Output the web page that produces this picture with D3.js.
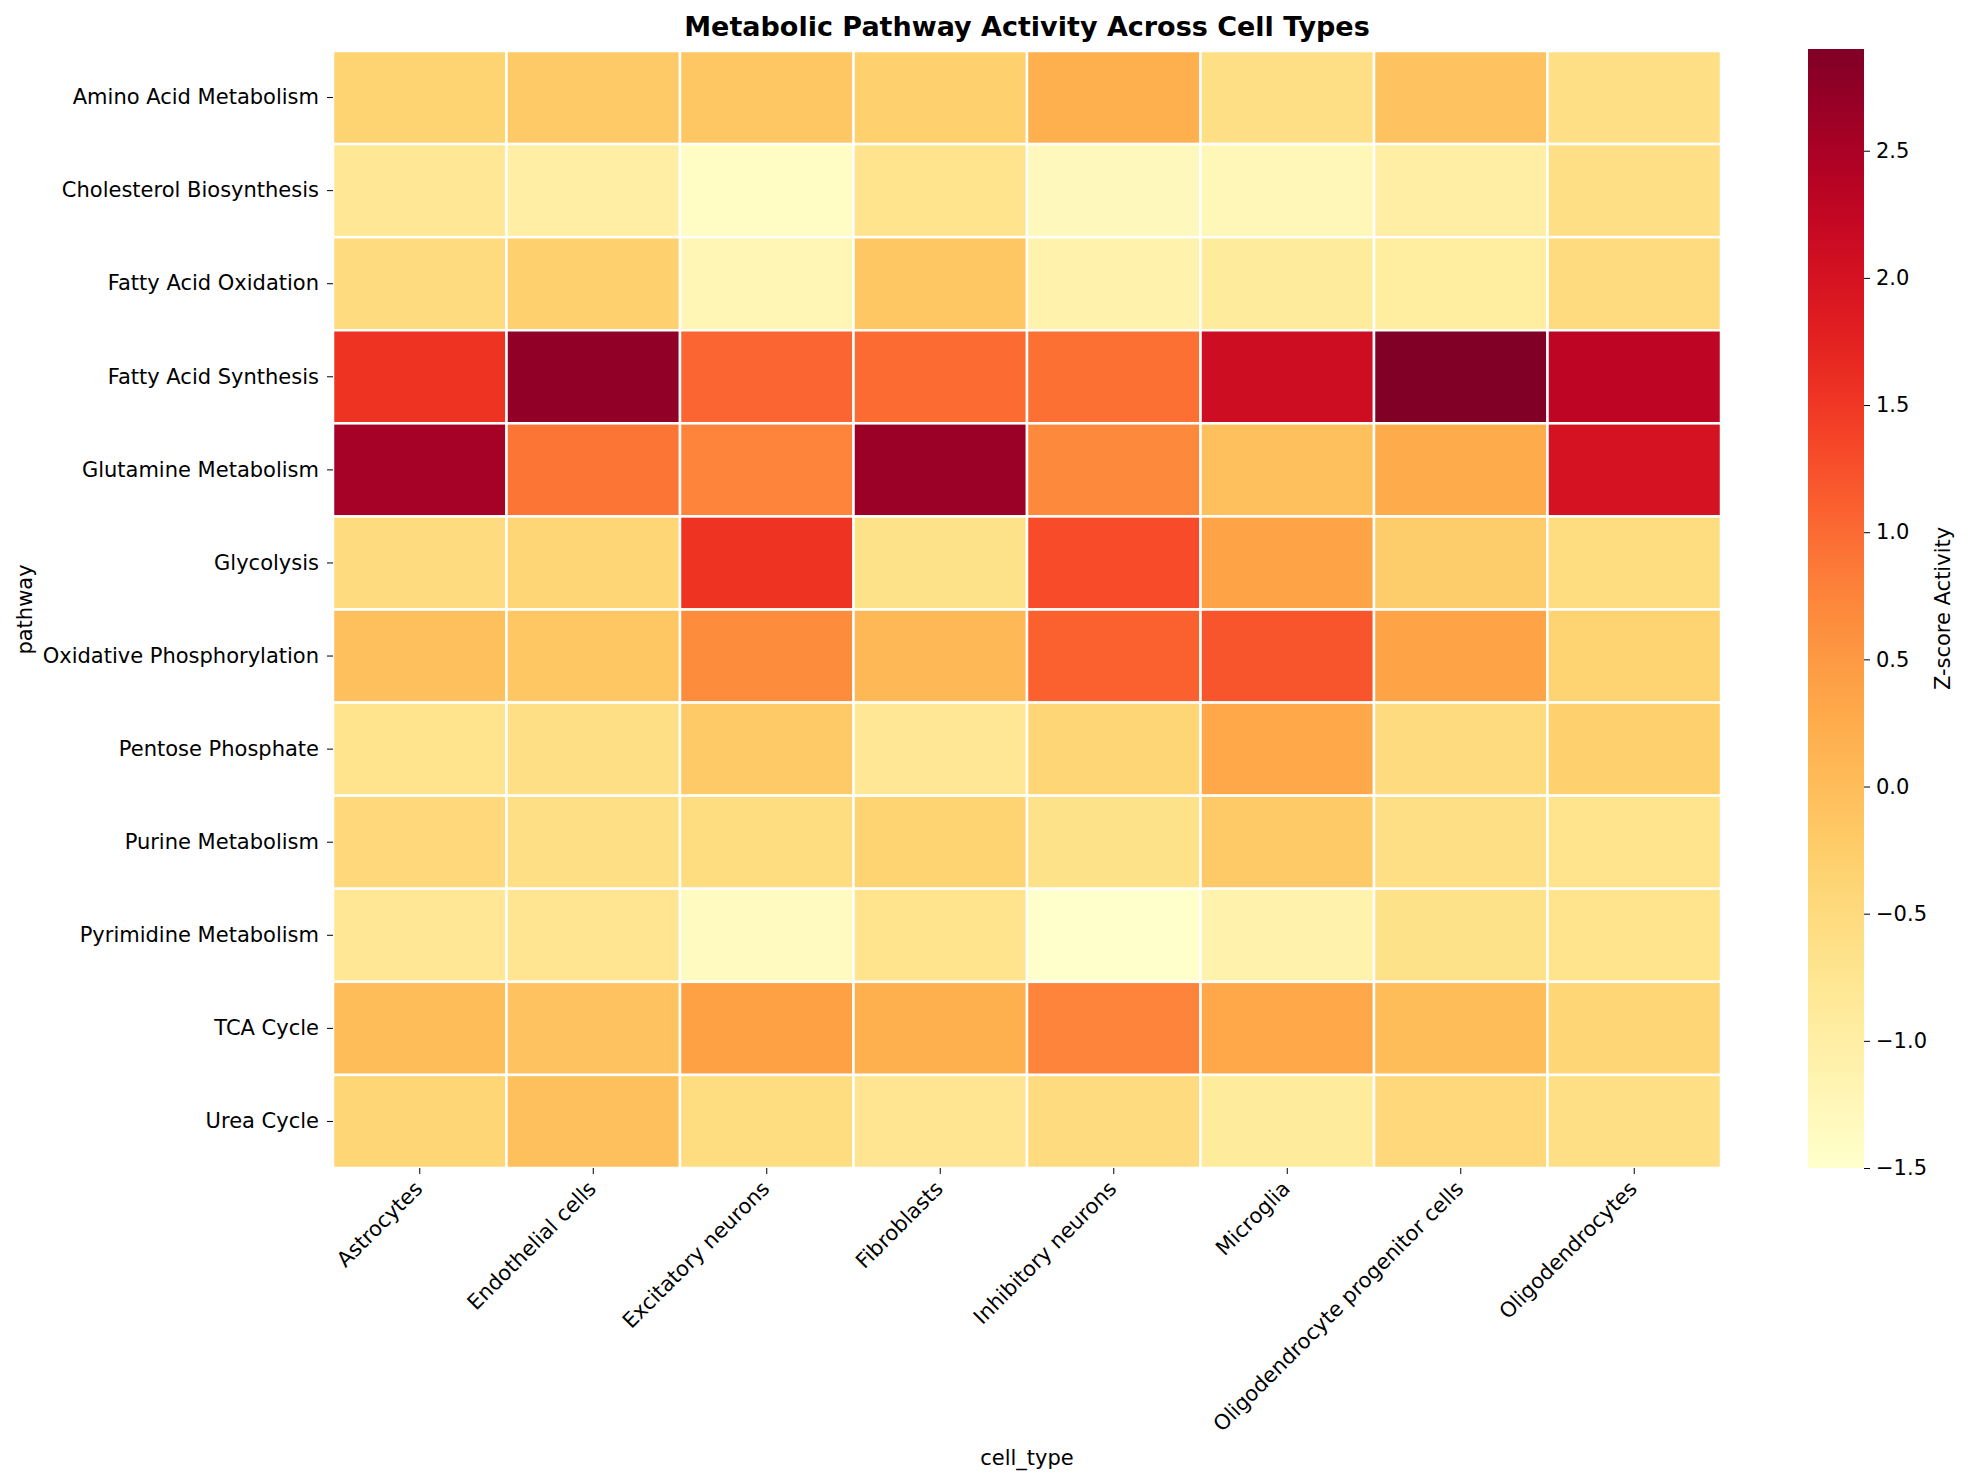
<!DOCTYPE html>
<html>
<head>
<meta charset="utf-8">
<script src="https://cdn.jsdelivr.net/npm/d3@7"></script>
<style>
body { margin: 0; background: #fff; font-family: "DejaVu Sans", sans-serif; }
</style>
</head>
<body>
<div id="chart-area"></div>
<script>
var cellTypes = ["Astrocytes", "Endothelial cells", "Excitatory neurons", "Fibroblasts",
    "Inhibitory neurons", "Microglia", "Oligodendrocyte progenitor cells", "Oligodendrocytes"];
var pathways = ["Amino Acid Metabolism", "Cholesterol Biosynthesis", "Fatty Acid Oxidation",
    "Fatty Acid Synthesis", "Glutamine Metabolism", "Glycolysis", "Oxidative Phosphorylation",
    "Pentose Phosphate", "Purine Metabolism", "Pyrimidine Metabolism", "TCA Cycle", "Urea Cycle"];
// one row per pathway, columns follow cellTypes
var zScores = [
    [-0.35, -0.2, -0.15, -0.3, 0.2, -0.6, -0.1, -0.6],
    [-0.8, -1.0, -1.4, -0.7, -1.3, -1.25, -1.0, -0.6],
    [-0.5, -0.3, -1.2, -0.15, -1.1, -0.9, -0.95, -0.5],
    [1.55, 2.75, 1.05, 1.0, 0.95, 2.1, 2.9, 2.3],
    [2.55, 0.9, 0.75, 2.65, 0.7, -0.05, 0.25, 2.0],
    [-0.5, -0.4, 1.55, -0.65, 1.3, 0.35, -0.25, -0.55],
    [-0.05, -0.15, 0.65, 0.05, 1.1, 1.2, 0.35, -0.35],
    [-0.7, -0.6, -0.2, -0.8, -0.4, 0.3, -0.5, -0.3],
    [-0.45, -0.6, -0.55, -0.35, -0.65, -0.2, -0.6, -0.7],
    [-0.8, -0.75, -1.35, -0.7, -1.5, -1.1, -0.65, -0.7],
    [0.0, -0.1, 0.4, 0.2, 0.75, 0.3, 0.0, -0.4],
    [-0.4, -0.05, -0.55, -0.75, -0.5, -0.9, -0.45, -0.6]
];
var colorTicks = [-1.5, -1.0, -0.5, 0.0, 0.5, 1.0, 1.5, 2.0, 2.5];
var zMin = -1.5, zMax = 2.9;

var margin = {left: 333, top: 51};
var width = 1721 - 333;
var height = 1168 - 51;

var svg = d3.select("#chart-area").append("svg")
    .attr("width", 1972).attr("height", 1483);

var g = svg.append("g")
    .attr("transform", "translate(" + margin.left + ", " + margin.top + ")");

var x = d3.scaleBand().domain(cellTypes).range([0, width]);
var y = d3.scaleBand().domain(pathways).range([0, height]);
var color = d3.scaleSequential(d3.interpolateYlOrRd).domain([zMin, zMax]);

var cells = [];
zScores.forEach((row, i) => {
    row.forEach((v, j) => { cells.push({p: pathways[i], c: cellTypes[j], v: v}); });
});

g.selectAll("rect.cell").data(cells).enter()
    .append("rect")
        .attr("class", "cell")
        .attr("x", (d) => x(d.c))
        .attr("y", (d) => y(d.p))
        .attr("width", x.bandwidth())
        .attr("height", y.bandwidth())
        .attr("fill", (d) => color(d.v))
        .attr("stroke", "white")
        .attr("stroke-width", 2.5);

var leftAxis = g.append("g").call(d3.axisLeft(y).tickSize(6).tickPadding(8));
leftAxis.select(".domain").remove();
leftAxis.selectAll("text").attr("font-size", "21px").attr("font-family", "DejaVu Sans");

var bottomAxis = g.append("g")
    .attr("transform", "translate(0, " + height + ")")
    .call(d3.axisBottom(x).tickSize(6).tickPadding(6));
bottomAxis.select(".domain").remove();
bottomAxis.selectAll("text")
    .attr("font-size", "21px")
    .attr("font-family", "DejaVu Sans")
    .attr("text-anchor", "end")
    .attr("x", 0).attr("y", 0).attr("dy", 0)
    .attr("transform", "translate(4, 22) rotate(-45)");

svg.append("text")
    .attr("x", margin.left + width / 2).attr("y", 36)
    .attr("text-anchor", "middle")
    .attr("font-size", "27px").attr("font-weight", "bold")
    .text("Metabolic Pathway Activity Across Cell Types");

svg.append("text")
    .attr("x", margin.left + width / 2).attr("y", 1465)
    .attr("text-anchor", "middle").attr("font-size", "21px")
    .text("cell_type");

svg.append("text")
    .attr("transform", "translate(32, " + (margin.top + height / 2) + ") rotate(-90)")
    .attr("text-anchor", "middle").attr("font-size", "21px")
    .text("pathway");

// colorbar
var cbX = 1808, cbW = 56;
var cy = d3.scaleLinear().domain([zMin, zMax]).range([1168, 49]);
var defs = svg.append("defs");
var grad = defs.append("linearGradient").attr("id", "cbgrad")
    .attr("x1", 0).attr("y1", 1).attr("x2", 0).attr("y2", 0);
d3.range(0, 1.001, 0.05).forEach((t) => {
    grad.append("stop").attr("offset", t).attr("stop-color", color(zMin + t * (zMax - zMin)));
});
svg.append("rect")
    .attr("x", cbX).attr("y", cy(zMax))
    .attr("width", cbW).attr("height", cy(zMin) - cy(zMax))
    .attr("fill", "url(#cbgrad)");
var cbAxis = svg.append("g")
    .attr("transform", "translate(" + (cbX + cbW) + ", 0)")
    .call(d3.axisRight(cy).tickValues(colorTicks).tickSize(6).tickPadding(6)
        .tickFormat((d) => d3.format(".1f")(d).replace("-", "\u2212")));
cbAxis.select(".domain").remove();
cbAxis.selectAll("text").attr("font-size", "21px").attr("font-family", "DejaVu Sans");

svg.append("text")
    .attr("transform", "translate(1950, " + ((49 + 1168) / 2) + ") rotate(-90)")
    .attr("text-anchor", "middle").attr("font-size", "21px")
    .text("Z-score Activity");
</script>
</body>
</html>
